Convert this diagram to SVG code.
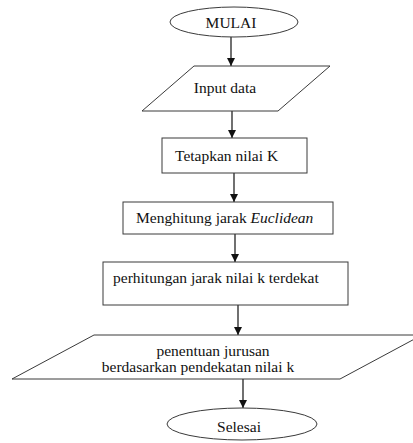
<svg xmlns="http://www.w3.org/2000/svg" width="413" height="443" viewBox="0 0 413 443">
<style>
.s{fill:#fff;stroke:#3a3a3a;stroke-width:1}
.t{font-family:"Liberation Serif","Times New Roman",serif;font-size:15.5px;fill:#111}
.c{stroke:#111;stroke-width:1.2;fill:none;marker-end:url(#ah)}
</style>
<defs>
<marker id="ah" markerUnits="userSpaceOnUse" markerWidth="9" markerHeight="9" refX="8" refY="4" orient="auto">
<path d="M0,0 L8,4 L0,8 z" fill="#111"/>
</marker>
</defs>
<rect width="413" height="443" fill="#fff"/>
<g id="connectors">
<line class="c" x1="231" y1="37" x2="231" y2="66"/>
<line class="c" x1="232" y1="111" x2="232" y2="138"/>
<line class="c" x1="234" y1="173" x2="234" y2="202"/>
<line class="c" x1="235" y1="234" x2="235" y2="262"/>
<line class="c" x1="238" y1="305" x2="238" y2="335"/>
<line class="c" x1="243" y1="379" x2="243" y2="408"/>
</g>
<g id="mulai">
<ellipse class="s" cx="234" cy="22" rx="64" ry="15"/>
<text class="t" x="231" y="28" text-anchor="middle">MULAI</text>
</g>
<g id="input">
<polygon class="s" points="194,66 330,66 278,111 142,111"/>
<text class="t" x="225" y="93" text-anchor="middle">Input data</text>
</g>
<g id="tetapkan">
<rect class="s" x="162" y="138" width="145" height="35"/>
<text class="t" x="175" y="161">Tetapkan nilai K</text>
</g>
<g id="menghitung">
<rect class="s" x="123" y="202" width="210" height="32"/>
<text class="t" x="136" y="223">Menghitung jarak <tspan font-style="italic">Euclidean</tspan></text>
</g>
<g id="perhitungan">
<rect class="s" x="103" y="262" width="245" height="43"/>
<text class="t" x="113" y="283">perhitungan jarak nilai k terdekat</text>
</g>
<g id="penentuan">
<polygon class="s" points="94,335 422,335 340,379 12,379"/>
<text class="t" x="213" y="356" text-anchor="middle">penentuan jurusan</text>
<text class="t" x="198" y="372" text-anchor="middle">berdasarkan pendekatan nilai k</text>
</g>
<g id="selesai">
<ellipse class="s" cx="242" cy="424" rx="75" ry="16"/>
<text class="t" x="239" y="432" text-anchor="middle">Selesai</text>
</g>
</svg>
